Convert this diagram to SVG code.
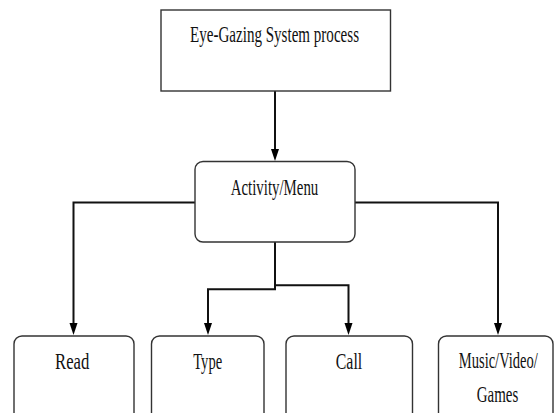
<svg xmlns="http://www.w3.org/2000/svg" width="554" height="413" viewBox="0 0 554 413">
<style>
.box{fill:#fff;stroke:#333;stroke-width:1.4}
.lbl{font-family:"Liberation Serif","Times New Roman",serif;font-size:23px;fill:#111;text-anchor:middle}
.con{fill:none;stroke:#111;stroke-width:2}
.head{fill:#000}
</style>
<rect width="554" height="413" fill="#fff"/>
<g id="connectors">
<path class="con" d="M275,91 V149"/>
<path class="head" d="M271,149 L279,149 L275,161 Z"/>
<path class="con" d="M195,202.5 H73.5 V323"/>
<path class="head" d="M69.5,323 L77.5,323 L73.5,335 Z"/>
<path class="con" d="M355,202.5 H498 V323"/>
<path class="head" d="M494,323 L502,323 L498,335 Z"/>
<path class="con" d="M275,242 V289.3 H208 V323"/>
<path class="head" d="M204,323 L212,323 L208,335 Z"/>
<path class="con" d="M275,285.3 H348.5 V323"/>
<path class="head" d="M344.5,323 L352.5,323 L348.5,335 Z"/>
</g>
<g id="top">
<rect class="box" x="161" y="10" width="229.5" height="81"/>
<text class="lbl" transform="translate(274.5,41.7) scale(0.655,1)">Eye-Gazing System process</text>
</g>
<g id="menu">
<rect class="box" x="195" y="161.5" width="160" height="80.5" rx="8"/>
<text class="lbl" transform="translate(274.5,195) scale(0.647,1)">Activity/Menu</text>
</g>
<g id="read">
<rect class="box" x="14" y="336" width="120" height="90" rx="8"/>
<text class="lbl" transform="translate(72.2,369) scale(0.725,1)">Read</text>
</g>
<g id="type">
<rect class="box" x="151.5" y="336" width="112.5" height="90" rx="8"/>
<text class="lbl" transform="translate(207.7,369) scale(0.634,1)">Type</text>
</g>
<g id="call">
<rect class="box" x="286" y="336" width="126.5" height="90" rx="8"/>
<text class="lbl" transform="translate(349,369) scale(0.69,1)">Call</text>
</g>
<g id="music">
<rect class="box" x="438.5" y="336" width="114.5" height="90" rx="8"/>
<text class="lbl" transform="translate(498.3,368.3) scale(0.632,1)">Music/Video/</text>
<text class="lbl" transform="translate(497.5,401.7) scale(0.65,1)">Games</text>
</g>
</svg>
